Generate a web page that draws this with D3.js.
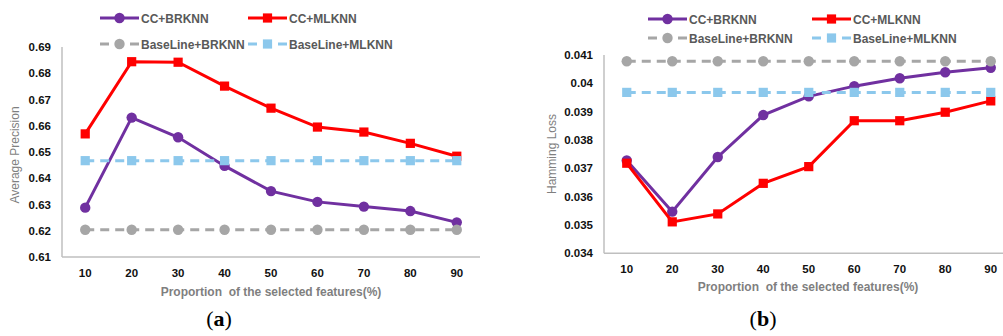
<!doctype html>
<html lang="en">
<head>
<meta charset="utf-8">
<script src="https://d3js.org/d3.v7.min.js"></script>
<style>
  body { margin: 0; background: #fff; }
  text { font-family: "Liberation Sans", Arial, sans-serif; }
</style>
</head>
<body>
<div id="chart"></div>
<script>
// categories: proportion of selected features (%)
var proportions = ["10", "20", "30", "40", "50", "60", "70", "80", "90"]
var seriesNames = ["CC+BRKNN", "CC+MLKNN", "BaseLine+BRKNN", "BaseLine+MLKNN"]

// (a) Average Precision
var apBRKNN = [0.6288, 0.6631, 0.6556, 0.6447, 0.6351, 0.6310, 0.6292, 0.6275, 0.6232]
var apMLKNN = [0.6569, 0.6844, 0.6842, 0.6751, 0.6667, 0.6595, 0.6576, 0.6533, 0.6484]
var apBaseBR = [0.6204, 0.6204, 0.6204, 0.6204, 0.6204, 0.6204, 0.6204, 0.6204, 0.6204]
var apBaseML = [0.6467, 0.6467, 0.6467, 0.6467, 0.6467, 0.6467, 0.6467, 0.6467, 0.6467]
var apTicks = [0.61, 0.62, 0.63, 0.64, 0.65, 0.66, 0.67, 0.68, 0.69]

// (b) Hamming Loss
var hlBRKNN = [0.03728, 0.03547, 0.0374, 0.03888, 0.03954, 0.0399, 0.04018, 0.04039, 0.04055]
var hlMLKNN = [0.03718, 0.03511, 0.03539, 0.03647, 0.03706, 0.03868, 0.03868, 0.03898, 0.03938]
var hlBaseBR = [0.04078, 0.04078, 0.04078, 0.04078, 0.04078, 0.04078, 0.04078, 0.04078, 0.04078]
var hlBaseML = [0.03968, 0.03968, 0.03968, 0.03968, 0.03968, 0.03968, 0.03968, 0.03968, 0.03968]
var hlTicks = [0.034, 0.035, 0.036, 0.037, 0.038, 0.039, 0.04, 0.041]

var width = 1003
var height = 336

var svg = d3.select("#chart").append("svg")
  .attr("width", width)
  .attr("height", height)

var styles = [
  { color: "#7030a0", dash: null, marker: "circle" },
  { color: "#ff0000", dash: null, marker: "square" },
  { color: "#a6a6a6", dash: "9,6", marker: "circle" },
  { color: "#8cc8ec", dash: "9,6", marker: "square" }
]

function drawMarker(g, type, x, y, color) {
  if (type == "circle") {
    g.append("circle").attr("cx", x).attr("cy", y).attr("r", 5.2).attr("fill", color)
  } else {
    g.append("rect").attr("x", x - 4.6).attr("y", y - 4.6)
      .attr("width", 9.2).attr("height", 9.2).attr("fill", color)
  }
}

function panel(p) {
  var g = svg.append("g")

  var x = d3.scaleBand().domain(proportions).range([p.x0, p.x1])
  var y = d3.scaleLinear().domain(p.domain).range([p.y0, p.y1])

  // axes lines
  g.append("line").attr("x1", p.x0).attr("x2", p.x0).attr("y1", p.y0).attr("y2", p.y1)
    .attr("stroke", "#bfbfbf").attr("stroke-width", 1.5)
  g.append("line").attr("x1", p.x0).attr("x2", p.x1).attr("y1", p.y0).attr("y2", p.y0)
    .attr("stroke", "#bfbfbf").attr("stroke-width", 1.5)

  // y tick labels
  g.selectAll(".yt").data(p.ticks).enter().append("text")
    .attr("x", p.x0 - 11).attr("y", function(d) { return y(d) + 4 })
    .attr("text-anchor", "end").attr("font-size", 11.5).attr("font-weight", "bold")
    .attr("fill", "#111")
    .text(function(d) { return d3.format(p.fmt)(d) })

  // x tick labels
  g.selectAll(".xt").data(proportions).enter().append("text")
    .attr("x", function(d) { return x(d) + x.bandwidth() / 2 })
    .attr("y", p.xtY)
    .attr("text-anchor", "middle").attr("font-size", 11.5).attr("font-weight", "bold")
    .attr("fill", "#111")
    .text(function(d) { return d })

  // axis titles
  g.append("text").attr("x", p.xtitleX).attr("y", p.xtitleY)
    .attr("text-anchor", "middle").attr("font-size", 12).attr("font-weight", "bold")
    .attr("fill", "#7f7f7f").attr("xml:space", "preserve")
    .text("Proportion  of the selected features(%)")
  g.append("text")
    .attr("transform", "translate(" + p.ytitleX + "," + p.ytitleY + ") rotate(-90)")
    .attr("text-anchor", "middle").attr("font-size", 12)
    .attr("fill", "#7f7f7f")
    .text(p.ytitle)

  // series
  var line = d3.line()
    .x(function(d, i) { return x(proportions[i]) + x.bandwidth() / 2 })
    .y(function(d) { return y(d) })

  p.series.forEach(function(s, k) {
    var st = styles[k]
    g.append("path").datum(s).attr("d", line)
      .attr("fill", "none").attr("stroke", st.color).attr("stroke-width", 3)
      .attr("stroke-dasharray", st.dash)
    s.forEach(function(v, i) {
      drawMarker(g, st.marker, x(proportions[i]) + x.bandwidth() / 2, y(v), st.color)
    })
  })

  // legend
  seriesNames.forEach(function(name, k) {
    var st = styles[k]
    var lx = p.legend[k][0], ly = p.legend[k][1]
    g.append("line").attr("x1", lx).attr("x2", lx + 39).attr("y1", ly).attr("y2", ly)
      .attr("stroke", st.color).attr("stroke-width", 3)
      .attr("stroke-dasharray", st.dash ? "9,6" : null)
    drawMarker(g, st.marker, lx + 19.5, ly, st.color)
    g.append("text").attr("x", lx + 41).attr("y", ly + 4.5)
      .attr("font-size", 12).attr("font-weight", "bold").attr("fill", "#595959")
      .text(name)
  })

  // caption
  var cap = g.append("text").attr("x", p.capX).attr("y", p.capY)
    .attr("text-anchor", "middle").attr("font-size", 22)
    .style("font-family", "'Liberation Serif', 'DejaVu Serif', serif")
  cap.append("tspan").text("(")
  cap.append("tspan").attr("font-weight", "bold").text(p.cap)
  cap.append("tspan").text(")")
}

panel({
  x0: 62, x1: 480, y0: 257, y1: 47,
  domain: [0.61, 0.69], ticks: apTicks, fmt: ".2f",
  xtY: 277, xtitleX: 271, xtitleY: 296,
  ytitle: "Average Precision", ytitleX: 19, ytitleY: 155,
  series: [apBRKNN, apMLKNN, apBaseBR, apBaseML],
  legend: [[100, 18], [248, 18], [100, 44], [248, 44]],
  cap: "a", capX: 219, capY: 326
})

panel({
  x0: 604, x1: 1013.5, y0: 253.3, y1: 55,
  domain: [0.034, 0.041], ticks: hlTicks, fmt: "",
  xtY: 273, xtitleX: 808, xtitleY: 291,
  ytitle: "Hamming Loss", ytitleX: 556, ytitleY: 154,
  series: [hlBRKNN, hlMLKNN, hlBaseBR, hlBaseML],
  legend: [[648, 19], [812, 19], [648, 38], [812, 38]],
  cap: "b", capX: 763, capY: 326
})
</script>
</body>
</html>
